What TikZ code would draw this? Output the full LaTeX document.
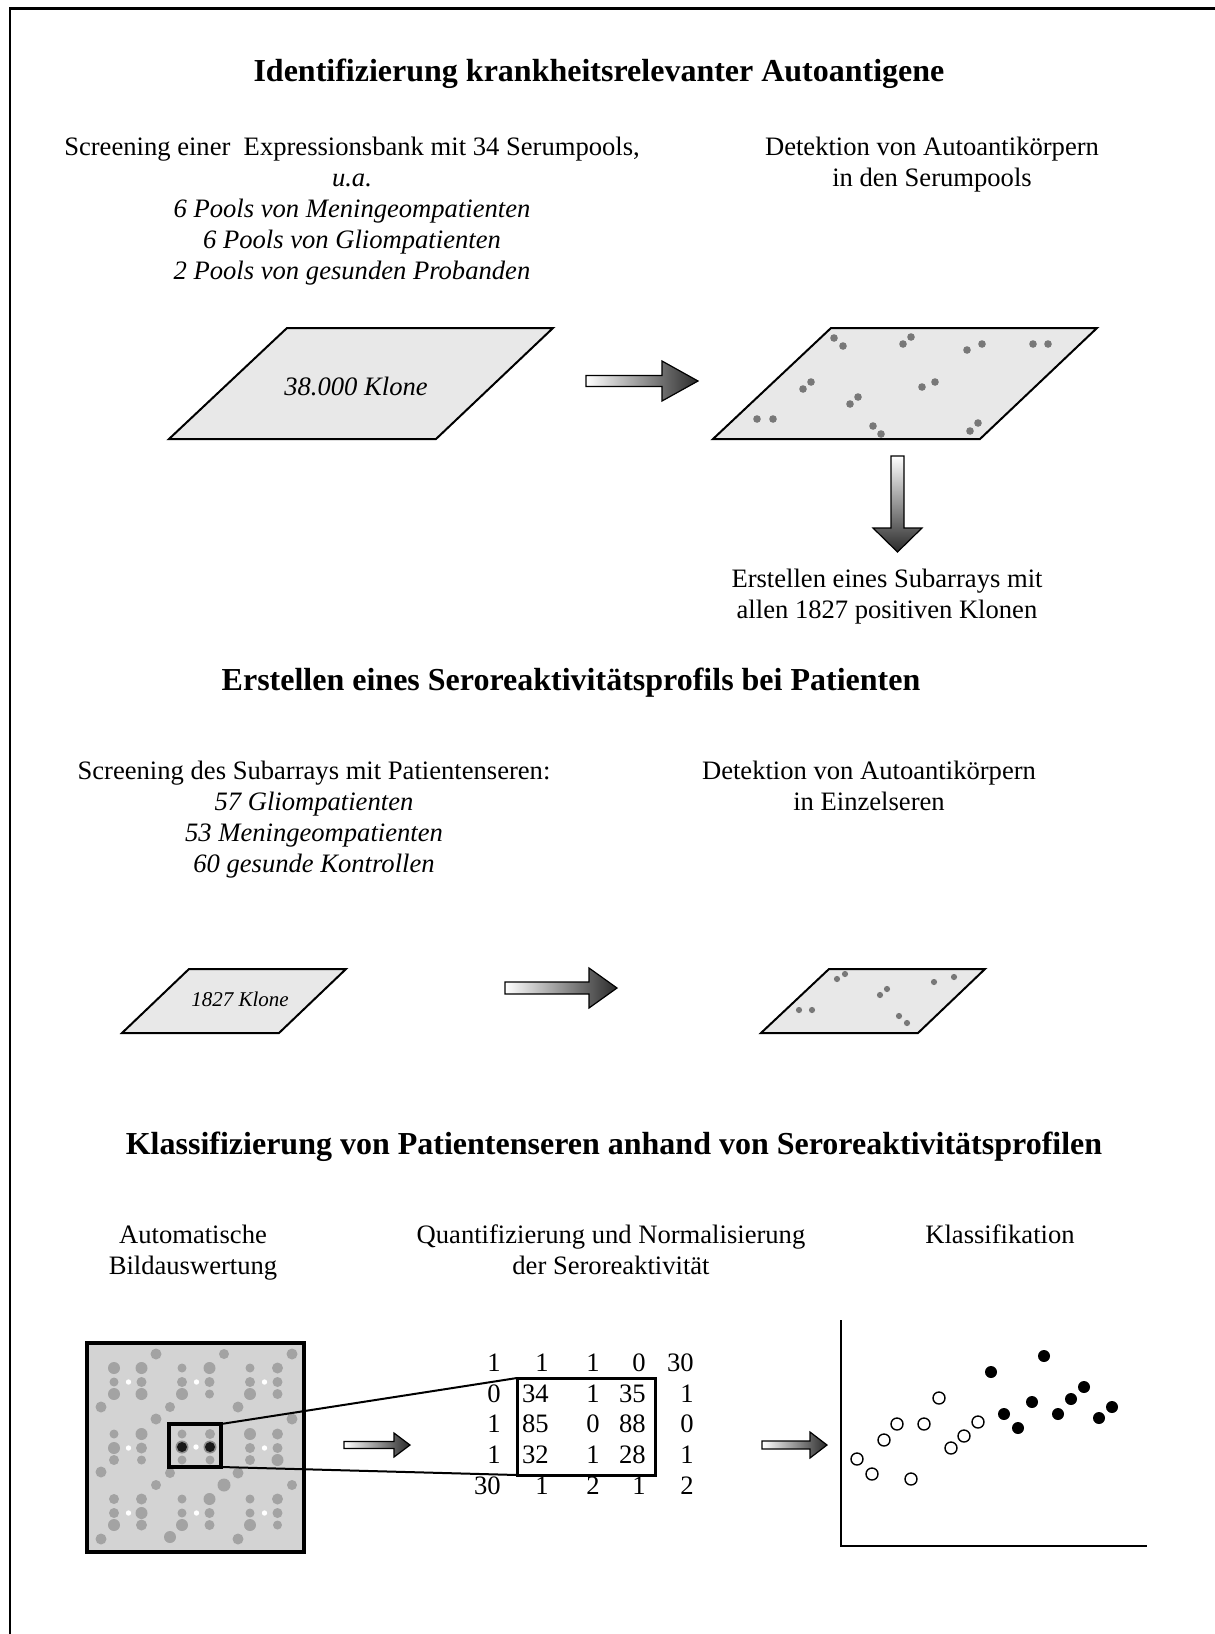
\documentclass[tikz,border=0pt]{standalone}
\usepackage{fontspec}
\setmainfont{Liberation Serif}
\definecolor{platefill}{HTML}{E8E8E8}
\definecolor{dotgray}{HTML}{787878}
\definecolor{arraybg}{HTML}{D3D3D3}
\definecolor{spotgray}{HTML}{A3A3A3}
\definecolor{arrowdark}{HTML}{2A2A2A}
\begin{document}
\begin{tikzpicture}[x=0.5pt,y=-0.5pt,
  txt/.style={font=\fontsize{13.3}{15.5}\selectfont, align=center, inner sep=0pt},
  ttl/.style={font=\fontsize{16}{19}\selectfont\bfseries, inner sep=0pt},
  smalltxt/.style={font=\fontsize{10.5}{12}\selectfont\itshape, inner sep=0pt},
  num/.style={font=\fontsize{13.3}{15.5}\selectfont, inner sep=0pt, anchor=base east},
  plate/.style={draw=black, line width=1pt, fill=platefill, line join=miter},
  bigdot/.style={fill=dotgray},
  harrow/.style={draw=black, line width=0.6pt, left color=white, right color=arrowdark},
  varrow/.style={draw=black, line width=0.6pt, top color=white, bottom color=arrowdark},
  spot/.style={fill=spotgray},
  opendot/.style={draw=black, line width=0.7pt, fill=white},
  filldot/.style={fill=black}]
\useasboundingbox (0,0) rectangle (1215,1634);
% frame (top and left only)
\draw[line width=1.4pt] (10,1634) -- (10,8.7) -- (1215,8.7);

% ---------- Section 1 ----------
\node[ttl] (t1) at (599,74) {Identifizierung krankheitsrelevanter Autoantigene};
\node[txt] (scr1) at (352,211) {Screening einer\ \ Expressionsbank mit 34 Serumpools,\\
  \itshape u.a.\\ \itshape 6 Pools von Meningeompatienten\\
  \itshape 6 Pools von Gliompatienten\\ \itshape 2 Pools von gesunden Probanden};
\node[txt] (det1) at (932,164.5) {Detektion von Autoantikörpern\\ in den Serumpools};

\draw[plate] (287,328) -- (553,328) -- (436,439) -- (169,439) -- cycle;
\node[txt, font=\fontsize{13.3}{15.5}\selectfont\itshape] (k1) at (356,386) {38.000 Klone};

\shadedraw[harrow] (586,375.5) -- (662,375.5) -- (662,361) -- (698,381) -- (662,401) -- (662,386.5) -- (586,386.5) -- cycle;

\draw[plate] (831,328) -- (1097,328) -- (980,439) -- (713,439) -- cycle;
\foreach \px/\py in {834/338,843/346,903/344,911/337,967/350,982/344,1033/344,1048/344,
  803/389,811/382,850/404,858/397,922/387,935/382,757/419,773/419,873/426,881/434,970/431,978/423}
  \fill[bigdot] (\px,\py) circle (3.8);

\shadedraw[varrow] (891,456) -- (904,456) -- (904,528) -- (922,528) -- (897.5,552) -- (873,528) -- (891,528) -- cycle;

\node[txt] (sub) at (887,597) {Erstellen eines Subarrays mit\\ allen 1827 positiven Klonen};

% ---------- Section 2 ----------
\node[ttl] (t2) at (571,683) {Erstellen eines Seroreaktivitätsprofils bei Patienten};
\node[txt] (scr2) at (314,820) {Screening des Subarrays mit Patientenseren:\\
  \itshape 57 Gliompatienten\\ \itshape 53 Meningeompatienten\\ \itshape 60 gesunde Kontrollen};
\node[txt] (det2) at (869,786) {Detektion von Autoantikörpern\\ in Einzelseren};

\draw[plate] (189,969) -- (346,969) -- (279,1033) -- (122,1033) -- cycle;
\node[smalltxt] (k2) at (240,999) {1827 Klone};

\shadedraw[harrow] (505,982) -- (589,982) -- (589,968) -- (617,988) -- (589,1008) -- (589,994) -- (505,994) -- cycle;

\draw[plate] (829,969) -- (985,969) -- (918,1033) -- (761,1033) -- cycle;
\foreach \px/\py in {837/979,845/974,880/995,887/989,934/982,954/977,799/1010,812/1010,899/1016,907/1023}
  \fill[bigdot] (\px,\py) circle (3.1);

% ---------- Section 3 ----------
\node[ttl] (t3) at (614,1147) {Klassifizierung von Patientenseren anhand von Seroreaktivitätsprofilen};
\node[txt] (auto) at (193,1252.5) {Automatische\\ Bildauswertung};
\node[txt] (quant) at (611,1249.5) {Quantifizierung und Normalisierung\\ der Seroreaktivität};
\node[txt] (klass) at (1000,1234) {Klassifikation};

% microarray image
\fill[arraybg] (87,1343) rectangle (304,1552);
% blocks: x-left, y-top, radii TL ML BL TR MR BR
\foreach \cx/\ry/\ra/\rb/\rc/\rd/\re/\rf in {
  114/1368/6/4.5/6/6/5/6, 182/1368/4.5/5/6/6/5/4.5, 250/1368/4.5/5/6/5.5/5/5,
  114/1434/4.5/6/5/6/5.5/4.5, 250/1434/6/5/5/5.5/5/6,
  114/1499/5/5/6/5.5/6/5.5, 182/1499/4.5/4.5/6/6/5/5, 250/1499/4.5/4.5/6/5.5/5/4.5}{
    \fill[spot] (\cx,\ry) circle (\ra);
    \fill[spot] (\cx,\ry+14) circle (\rb);
    \fill[spot] (\cx,\ry+26) circle (\rc);
    \fill[spot] (\cx+27.5,\ry) circle (\rd);
    \fill[spot] (\cx+27.5,\ry+14) circle (\re);
    \fill[spot] (\cx+27.5,\ry+26) circle (\rf);
    \fill[white] (\cx+14.5,\ry+14) circle (2.7);
  }
% centre block (highlighted)
\fill[spot] (182,1434) circle (4.5);
\fill[spot] (182,1460) circle (4.5);
\fill[spot] (210,1434) circle (5);
\fill[spot] (210,1460) circle (4.5);
\fill[black!45] (182,1447) circle (6.5);
\fill[black!90] (182,1447) circle (5);
\fill[black!45] (210,1447) circle (6.5);
\fill[black!90] (210,1447) circle (5);
\fill[white] (196,1447) circle (2.7);
\foreach \px/\py/\pr in {156/1354/5.5,224/1354/5,292/1354/5.5,101/1407/5.5,170/1407/5,238/1407/5.5,
  156/1419/5.5,292/1419/5.5,101/1472/5.5,170/1473/5,238/1473/5.5,156/1485/5,224/1485/6.5,
  292/1485/5,101/1539/5.5,170/1537/6,238/1539/5.5}
  \fill[spot] (\px,\py) circle (\pr);
\draw[line width=2.3pt] (87,1343) rectangle (304,1552);
\draw[line width=1.7pt] (169,1424) rectangle (221,1467);
\coordinate (zin1) at (221,1424);
\coordinate (zin2) at (221,1467);

% matrix
\draw[line width=1.5pt] (517,1378) rectangle (655,1475);
\coordinate (zout1) at (517,1378);
\coordinate (zout2) at (517,1475);
\draw[line width=1pt] (zin1) -- (zout1);
\draw[line width=1pt] (zin2) -- (zout2);
\foreach \a/\b/\c/\d/\e [count=\i] in {1/1/1/0/30, 0/34/1/35/1, 1/85/0/88/0, 1/32/1/28/1, 30/1/2/1/2}{
  \pgfmathsetmacro{\by}{1341+\i*30.6}
  \node[num] at (501,\by) {\a};
  \node[num] at (549,\by) {\b};
  \node[num] at (600,\by) {\c};
  \node[num] at (646,\by) {\d};
  \node[num] at (694,\by) {\e};
}

\shadedraw[harrow] (344,1441.5) -- (394,1441.5) -- (394,1433) -- (410,1445) -- (394,1457) -- (394,1448.5) -- (344,1448.5) -- cycle;
\shadedraw[harrow] (762,1441) -- (810,1441) -- (810,1432) -- (827,1445) -- (810,1458) -- (810,1449) -- (762,1449) -- cycle;

% scatter plot
\draw[line width=1.3pt] (841,1320) -- (841,1546) -- (1147,1546);
\foreach \px/\py in {857/1459,872/1474,884/1440,897/1424,911/1479,924/1424,939/1398,951/1448,964/1436,978/1422}
  \draw[opendot] (\px,\py) circle (6);
\foreach \px/\py in {991/1372,1044/1356,1004/1414,1018/1428,1032/1402,1058/1414,1071/1399,1084/1387,1099/1418,1112/1407}
  \fill[filldot] (\px,\py) circle (6);
\end{tikzpicture}
\end{document}
